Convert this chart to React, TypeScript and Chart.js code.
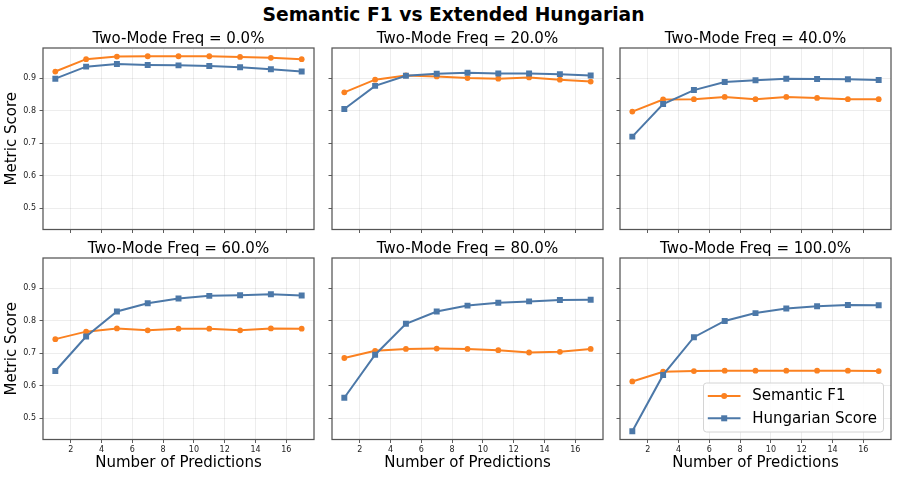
import React, { useEffect, useRef } from 'react';
import { Chart, registerables } from 'chart.js';

Chart.register(...registerables);

// ---------- data ----------
const X_VALUES = [1, 3, 5, 7, 9, 11, 13, 15, 17];
const X_TICKS = [2, 4, 6, 8, 10, 12, 14, 16];
const Y_TICKS = [0.5, 0.6, 0.7, 0.8, 0.9];
const PANEL_TITLES = [
  'Two-Mode Freq = 0.0%',
  'Two-Mode Freq = 20.0%',
  'Two-Mode Freq = 40.0%',
  'Two-Mode Freq = 60.0%',
  'Two-Mode Freq = 80.0%',
  'Two-Mode Freq = 100.0%',
];
const SERIES_NAMES = ['Semantic F1', 'Hungarian Score'];

const F1_0 = [0.920, 0.958, 0.966, 0.967, 0.967, 0.967, 0.965, 0.962, 0.958];
const HU_0 = [0.898, 0.935, 0.943, 0.940, 0.939, 0.937, 0.933, 0.927, 0.920];
const F1_20 = [0.856, 0.895, 0.908, 0.905, 0.900, 0.898, 0.902, 0.895, 0.889];
const HU_20 = [0.805, 0.876, 0.907, 0.913, 0.916, 0.914, 0.914, 0.912, 0.908];
const F1_40 = [0.797, 0.834, 0.835, 0.842, 0.835, 0.842, 0.839, 0.835, 0.835];
const HU_40 = [0.720, 0.820, 0.863, 0.888, 0.893, 0.898, 0.897, 0.896, 0.894];
const F1_60 = [0.743, 0.766, 0.776, 0.770, 0.775, 0.775, 0.770, 0.776, 0.775];
const HU_60 = [0.645, 0.751, 0.828, 0.853, 0.868, 0.876, 0.878, 0.881, 0.877];
const F1_80 = [0.685, 0.707, 0.713, 0.714, 0.713, 0.709, 0.702, 0.704, 0.713];
const HU_80 = [0.563, 0.695, 0.790, 0.828, 0.846, 0.855, 0.859, 0.863, 0.864];
const F1_100 = [0.613, 0.643, 0.645, 0.646, 0.646, 0.646, 0.646, 0.646, 0.645];
const HU_100 = [0.460, 0.633, 0.749, 0.799, 0.823, 0.837, 0.844, 0.848, 0.847];

const F1_SERIES = [F1_0, F1_20, F1_40, F1_60, F1_80, F1_100];
const HU_SERIES = [HU_0, HU_20, HU_40, HU_60, HU_80, HU_100];

// ---------- style / layout ----------
const ORANGE = '#fb8120';
const BLUE = '#4c78a8';
const GRID = 'rgba(0,0,0,0.09)';
const FRAME = '#555555';
const FONT = '"DejaVu Sans", sans-serif';

const COL_LEFT = [43, 332, 620];
const ROW_TOP = [48, 258];
const AX_W = 271;
const AX_H = 181.5;
const PAD_L = 43;
const PAD_T = 25;
const PAD_R = 6;
const Y_MIN = 0.4346;
const Y_MAX = 0.9923;
const X_MIN = 0.2;
const X_MAX = 17.8;

function drawLegend(ctx: CanvasRenderingContext2D, a: any) {
  const w = 180;
  const h = 49;
  const x0 = a.right - 7.5 - w;
  const y0 = a.bottom - 7.5 - h;
  const r = 3;
  ctx.beginPath();
  ctx.moveTo(x0 + r, y0);
  ctx.lineTo(x0 + w - r, y0);
  ctx.arcTo(x0 + w, y0, x0 + w, y0 + r, r);
  ctx.lineTo(x0 + w, y0 + h - r);
  ctx.arcTo(x0 + w, y0 + h, x0 + w - r, y0 + h, r);
  ctx.lineTo(x0 + r, y0 + h);
  ctx.arcTo(x0, y0 + h, x0, y0 + h - r, r);
  ctx.lineTo(x0, y0 + r);
  ctx.arcTo(x0, y0, x0 + r, y0, r);
  ctx.closePath();
  ctx.fillStyle = 'rgba(255,255,255,0.85)';
  ctx.fill();
  ctx.strokeStyle = '#d4d4d4';
  ctx.lineWidth = 1;
  ctx.stroke();
  const colors = [ORANGE, BLUE];
  for (let i = 0; i < 2; i++) {
    const cy = y0 + 13 + i * 22.3;
    ctx.strokeStyle = colors[i];
    ctx.fillStyle = colors[i];
    ctx.lineWidth = 2;
    ctx.beginPath();
    ctx.moveTo(x0 + 4.3, cy);
    ctx.lineTo(x0 + 37, cy);
    ctx.stroke();
    const mx = x0 + 20.7;
    if (i === 0) {
      ctx.beginPath();
      ctx.arc(mx, cy, 3, 0, Math.PI * 2);
      ctx.fill();
    } else {
      ctx.fillRect(mx - 3, cy - 3, 6, 6);
    }
    ctx.fillStyle = '#000';
    ctx.font = `15px ${FONT}`;
    ctx.textAlign = 'left';
    ctx.textBaseline = 'middle';
    ctx.fillText(SERIES_NAMES[i], x0 + 48.7, cy + 0.5);
  }
}

function Panel({ idx }: { idx: number }) {
  const ref = useRef<HTMLCanvasElement>(null);
  const row = Math.floor(idx / 3);
  const col = idx % 3;
  const canvasLeft = COL_LEFT[col] - PAD_L;
  const canvasTop = ROW_TOP[row] - PAD_T;
  const canvasW = PAD_L + AX_W + PAD_R;
  const canvasH = row === 1 ? 478 - canvasTop : 217;
  const padB = canvasH - PAD_T - AX_H;

  useEffect(() => {
    const title = PANEL_TITLES[idx];
    const panelPlugin = {
      id: 'panelDecor',
      afterDraw(chart: any) {
        const { ctx, chartArea: a } = chart;
        ctx.save();
        ctx.strokeStyle = FRAME;
        ctx.lineWidth = 1.25;
        ctx.strokeRect(a.left, a.top, a.right - a.left, a.bottom - a.top);
        ctx.fillStyle = '#000';
        ctx.font = `15px ${FONT}`;
        ctx.textAlign = 'center';
        ctx.textBaseline = 'alphabetic';
        ctx.fillText(title, (a.left + a.right) / 2, a.top - 5);
        if (idx === 5) drawLegend(ctx, a);
        ctx.restore();
      },
    };

    const chart = new Chart(ref.current!, {
      type: 'line',
      data: {
        datasets: [
          {
            label: SERIES_NAMES[0],
            data: X_VALUES.map((x, i) => ({ x, y: F1_SERIES[idx][i] })),
            borderColor: ORANGE,
            backgroundColor: ORANGE,
            borderWidth: 2,
            pointStyle: 'circle',
            pointRadius: 2.9,
            pointBorderWidth: 0,
            order: 1,
          },
          {
            label: SERIES_NAMES[1],
            data: X_VALUES.map((x, i) => ({ x, y: HU_SERIES[idx][i] })),
            borderColor: BLUE,
            backgroundColor: BLUE,
            borderWidth: 2,
            pointStyle: 'rect',
            pointRadius: 4.2,
            pointBorderWidth: 0,
            order: 0,
          },
        ],
      },
      options: {
        animation: false,
        responsive: false,
        devicePixelRatio: 1,
        layout: { padding: { top: PAD_T, right: PAD_R, left: 0, bottom: 0 } },
        plugins: {
          legend: { display: false },
          tooltip: { enabled: false },
        },
        scales: {
          x: {
            type: 'linear',
            min: X_MIN,
            max: X_MAX,
            afterBuildTicks: (s: any) => {
              s.ticks = X_TICKS.map((v) => ({ value: v }));
            },
            afterFit: (s: any) => {
              s.height = padB;
            },
            grid: { color: GRID, lineWidth: 0.8, tickColor: '#333', tickLength: 3.5, drawTicks: true },
            border: { display: false },
            ticks: {
              display: row === 1,
              autoSkip: false,
              maxRotation: 0,
              padding: 2,
              color: '#222',
              font: { family: FONT, size: 8 },
              callback: (v: any) => String(v),
            },
            title: {
              display: row === 1,
              text: 'Number of Predictions',
              color: '#000',
              font: { family: FONT, size: 15 },
              padding: { top: 0, bottom: 5.7 },
            },
          },
          y: {
            type: 'linear',
            min: Y_MIN,
            max: Y_MAX,
            afterBuildTicks: (s: any) => {
              s.ticks = Y_TICKS.map((v) => ({ value: v }));
            },
            afterFit: (s: any) => {
              s.width = PAD_L;
            },
            grid: { color: GRID, lineWidth: 0.8, tickColor: '#333', tickLength: 3.5, drawTicks: true },
            border: { display: false },
            ticks: {
              display: col === 0,
              autoSkip: false,
              padding: 3.5,
              color: '#222',
              font: { family: FONT, size: 8 },
              callback: (v: any) => Number(v).toFixed(1),
            },
            title: {
              display: col === 0,
              text: 'Metric Score',
              color: '#000',
              font: { family: FONT, size: 15 },
              padding: { top: 3.5, bottom: 0 },
            },
          },
        },
      },
      plugins: [panelPlugin],
    } as any);
    return () => chart.destroy();
  }, [idx]);

  return (
    <canvas
      ref={ref}
      width={canvasW}
      height={canvasH}
      style={{ position: 'absolute', left: canvasLeft, top: canvasTop, width: canvasW, height: canvasH }}
    />
  );
}

export default function App() {
  return (
    <div
      style={{
        position: 'absolute',
        left: 0,
        top: 0,
        width: 897,
        height: 478,
        background: '#fff',
        overflow: 'hidden',
      }}
    >
      <div
        style={{
          position: 'absolute',
          left: 0,
          top: 3.8,
          width: 907,
          textAlign: 'center',
          fontFamily: FONT,
          fontWeight: 'bold',
          fontSize: 18.7,
          lineHeight: '22px',
          color: '#000',
          whiteSpace: 'nowrap',
        }}
      >
        Semantic F1 vs Extended Hungarian
      </div>
      {[0, 1, 2, 3, 4, 5].map((i) => (
        <Panel key={i} idx={i} />
      ))}
    </div>
  );
}
